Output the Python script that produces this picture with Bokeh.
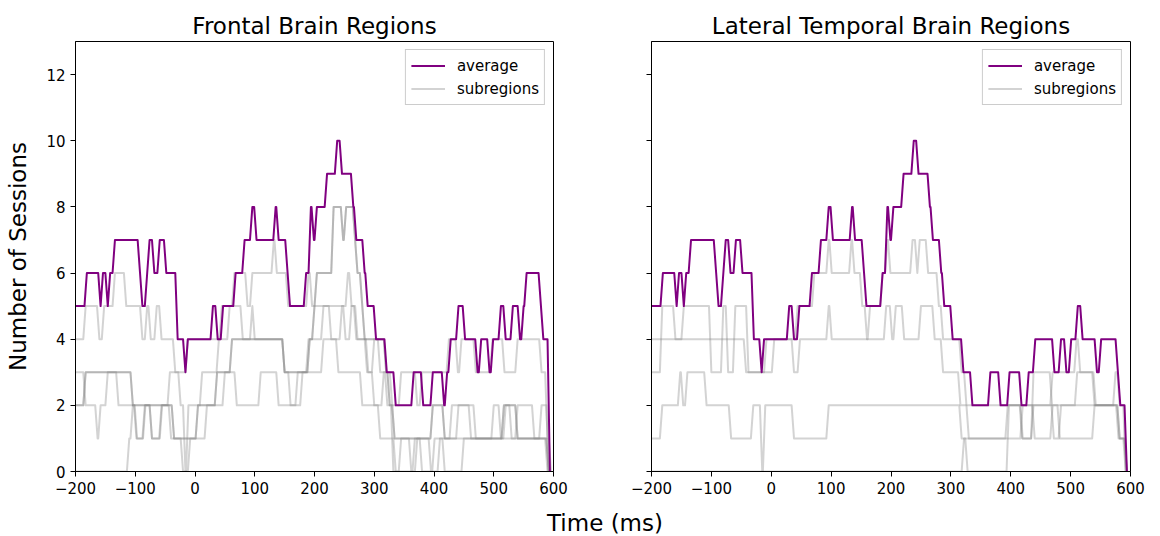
from bokeh.plotting import figure
from bokeh.models import Range1d, FixedTicker, Legend, LegendItem, Div
from bokeh.layouts import row, column
from bokeh.embed import file_html
from bokeh.resources import INLINE

FONT = "DejaVu Sans"

# ---------------- data (segment start time in ms, value held from that time) ----------------
x_ticks = [-200, -100, 0, 100, 200, 300, 400, 500, 600]
y_ticks = [0, 2, 4, 6, 8, 10, 12]

# Frontal: average
frontal_avg_t = [-200, -181, -158, -154, -146, -142, -134, -92, -88, -80, -76, -68, -59, -48, -29, -16, -12, 30, 38, 47,
                 68, 83, 96, 103, 135, 140, 155, 159, 186, 194, 199, 204, 221, 238, 246, 265, 270, 284, 289, 303, 321, 336,
                 366, 382, 398, 417, 422, 428, 441, 452, 473, 479, 493, 499, 512, 520, 532, 544, 550, 555, 579, 583, 594]
frontal_avg_v = [5, 6, 5, 6, 5, 6, 7, 6, 5, 6, 7, 6, 7, 6, 4, 3, 4, 5, 4, 5,
                 6, 7, 8, 7, 8, 7, 6, 5, 6, 8, 7, 8, 9, 10, 9, 8, 7, 6, 5, 4, 3, 2,
                 3, 2, 3, 2, 3, 4, 5, 4, 3, 4, 3, 4, 5, 4, 5, 4, 5, 6, 5, 4, 0]

# Frontal: subregions
frontal_s1_t = [-200, -183, -104, -35, 5, 37, 62, 150, 192, 200, 204, 232, 248, 253, 268, 272, 280, 284, 320, 326, 334,
                398, 418, 441, 470, 517, 540, 592]
frontal_s1_v = [2, 3, 2, 1, 2, 3, 4, 3, 4, 5, 6, 8, 7, 8, 7, 6, 5, 4, 3, 2, 1,
                2, 1, 2, 1, 2, 1, 0]
frontal_s2_t = [-200, -183, -104, -35, 5, 37, 62, 150, 192, 200, 204, 232, 248, 253, 268, 272, 280, 284, 320, 326, 334,
                398, 418, 517, 540, 592]
frontal_s2_v = [2, 3, 2, 1, 2, 3, 4, 3, 4, 5, 6, 8, 7, 8, 7, 6, 5, 4, 3, 2, 1,
                2, 1, 2, 1, 0]
frontal_s3_t = [-200, -183, -160, -152, -134, -115, -88, -80, -74, -64, -56, -33, -12, 45, 66, 88, 96, 132, 137, 156,
                190, 196, 256, 262, 272, 290, 300, 310, 330, 345, 372, 380, 425, 440, 446, 470, 498, 518, 540, 580,
                590, 596]
frontal_s3_v = [4, 5, 4, 5, 6, 5, 4, 5, 4, 5, 4, 3, 4, 5, 6, 5, 6, 7, 6, 5,
                6, 5, 6, 5, 4, 3, 4, 3, 2, 3, 2, 3, 4, 3, 4, 3, 4, 3, 4, 3,
                1, 0]
frontal_s4_t = [-200, -183, -163, -158, -146, -128, -98, -84, -72, -56, -42, -24, -16, -11, 12, 40, 58, 80, 96, 100,
                150, 160, 172, 190, 215, 228, 246, 252, 262, 270, 288, 300, 316, 322, 332, 345, 362, 368, 395, 401,
                430, 462, 500, 512, 540, 568, 580, 592]
frontal_s4_v = [3, 2, 1, 2, 3, 2, 1, 2, 1, 2, 3, 2, 0, 2, 3, 4, 5, 4, 5, 4,
                3, 2, 3, 4, 5, 4, 5, 4, 5, 4, 3, 2, 3, 2, 0, 1, 0, 1, 0, 1,
                2, 1, 2, 1, 2, 1, 2, 0]
frontal_s5_t = [-200, -110, -104, -97, -83, -72, -55, -40, -20, -8, 20, 50, 70, 110, 140, 180, 215, 240, 280, 310,
                336, 372, 380, 410, 418, 450, 520, 530, 590]
frontal_s5_v = [0, 1, 2, 1, 2, 1, 2, 1, 0, 1, 2, 3, 2, 3, 2, 3, 4, 3, 2, 1,
                0, 1, 0, 1, 0, 1, 2, 1, 0]

# Lateral temporal: average
temporal_avg_t = [-200, -181, -158, -154, -146, -142, -134, -92, -88, -80, -76, -68, -59, -48, -29, -16, -12, 30, 38, 47,
                  68, 83, 96, 103, 135, 140, 155, 159, 186, 194, 199, 204, 221, 238, 246, 265, 270, 284, 289, 303, 321, 336,
                  366, 383, 398, 418, 430, 441, 473, 484, 493, 501, 512, 520, 544, 551, 579, 583, 594]
temporal_avg_v = [5, 6, 5, 6, 5, 6, 7, 6, 5, 6, 7, 6, 7, 6, 4, 3, 4, 5, 4, 5,
                  6, 7, 8, 7, 8, 7, 6, 5, 6, 8, 7, 8, 9, 10, 9, 8, 7, 6, 5, 4, 3, 2,
                  3, 2, 3, 2, 3, 4, 3, 4, 3, 4, 5, 4, 3, 4, 3, 2, 0]

# Lateral temporal: subregions
temporal_s1_t = [-200, -182, -160, -146, -100, -80, -72, -60, -38, 5, 44, 72, 96, 101, 134, 139, 152, 160, 165, 186,
                 194, 199, 236, 244, 248, 262, 280, 287, 318, 326, 470, 510, 516, 540, 575, 582, 592]
temporal_s1_v = [3, 5, 4, 5, 3, 5, 3, 5, 3, 4, 5, 6, 7, 6, 7, 6, 5, 4, 5, 6,
                 7, 6, 7, 6, 7, 6, 5, 4, 3, 2, 3, 4, 3, 2, 3, 2, 0]
temporal_s2_t = [-200, -42, -8, 38, 48, 96, 101, 192, 202, 208, 222, 250, 273, 287, 316, 330, 395, 420, 438, 472,
                 484, 582, 594]
temporal_s2_v = [4, 3, 4, 3, 4, 5, 4, 5, 4, 5, 4, 5, 4, 3, 2, 1, 2, 1, 2, 1,
                 2, 1, 0]
temporal_s3_t = [-200, -182, -152, -147, -140, -108, -67, -30, -15, -10, 38, 96, 318, 328, 397, 419, 438, 469, 511, 542,
                 582, 594]
temporal_s3_v = [1, 2, 3, 2, 3, 2, 1, 2, 0, 2, 1, 2, 1, 0, 2, 1, 3, 2, 3, 2,
                 1, 0]
temporal_s4_t = [-200, 322, 420, 440, 470, 482, 540, 580, 592]
temporal_s4_v = [0, 1, 2, 1, 2, 1, 2, 1, 0]


def vertices(ts, vs, end=598, ramp=4):
    """Turn (segment start, value) pairs into line vertices with short ramps between levels."""
    xs, ys = [], []
    for i, (t, v) in enumerate(zip(ts, vs)):
        nxt = ts[i + 1] if i + 1 < len(ts) else end
        xs += [t, max(t, nxt - ramp)]
        ys += [v, v]
    return xs, ys


def make_panel(title, avg, subs, first, width, border_left):
    p = figure(width=width, height=503, x_range=Range1d(-200, 600), y_range=Range1d(0, 13),
               output_backend="svg", toolbar_location=None, title=title,
               min_border_left=border_left, min_border_right=20, min_border_top=41, min_border_bottom=32)
    p.background_fill_color = "white"
    p.border_fill_color = "white"
    p.outline_line_color = "black"
    p.outline_line_alpha = 1
    p.outline_line_width = 1
    p.xgrid.grid_line_color = None
    p.ygrid.grid_line_color = None

    p.title.text_font = FONT
    p.title.text_font_size = "23px"
    p.title.text_font_style = "normal"
    p.title.text_color = "black"
    p.title.align = "center"
    p.title.standoff = 5

    for ax in p.axis:
        ax.axis_line_color = "black"
        ax.major_tick_line_color = "black"
        ax.major_tick_out = 5
        ax.major_tick_in = 0
        ax.minor_tick_line_color = None
        ax.major_label_text_font = FONT
        ax.major_label_text_font_size = "15px"
        ax.major_label_text_color = "black"
        ax.major_label_standoff = 5
    p.xaxis.ticker = FixedTicker(ticks=x_ticks)
    p.yaxis.ticker = FixedTicker(ticks=y_ticks)
    p.xaxis.major_label_overrides = {t: (str(t).replace("-", "\u2212")) for t in x_ticks}
    if first:
        p.yaxis.axis_label = "Number of Sessions"
        p.yaxis.axis_label_text_font = FONT
        p.yaxis.axis_label_text_font_size = "23px"
        p.yaxis.axis_label_text_font_style = "normal"
        p.yaxis.axis_label_text_color = "black"
        p.yaxis.axis_label_standoff = 12
    else:
        p.yaxis.major_label_overrides = {t: "" for t in y_ticks}

    sub_rs = []
    for ts, vs in subs:
        xs, ys = vertices(ts, vs)
        sub_rs.append(p.line(xs, ys, line_color="gray", line_alpha=0.35, line_width=2, line_join="round"))
    xs, ys = vertices(*avg)
    avg_r = p.line(xs, ys, line_color="purple", line_width=2, line_join="round")

    legend = Legend(items=[LegendItem(label="average", renderers=[avg_r]),
                           LegendItem(label="subregions", renderers=[sub_rs[0]])],
                    location="top_right")
    legend.label_text_font = FONT
    legend.label_text_font_size = "15px"
    legend.label_text_color = "black"
    legend.border_line_color = "#cccccc"
    legend.border_line_alpha = 1
    legend.background_fill_alpha = 0.8
    legend.margin = 8
    legend.padding = 5
    legend.spacing = 2
    legend.glyph_width = 34
    legend.glyph_height = 21
    legend.label_height = 21
    legend.label_standoff = 12
    p.add_layout(legend)
    return p


p1 = make_panel("Frontal Brain Regions", (frontal_avg_t, frontal_avg_v),
                [(frontal_s1_t, frontal_s1_v), (frontal_s2_t, frontal_s2_v), (frontal_s3_t, frontal_s3_v),
                 (frontal_s4_t, frontal_s4_v), (frontal_s5_t, frontal_s5_v)],
                True, 573, 75)
p2 = make_panel("Lateral Temporal Brain Regions", (temporal_avg_t, temporal_avg_v),
                [(temporal_s1_t, temporal_s1_v), (temporal_s2_t, temporal_s2_v), (temporal_s3_t, temporal_s3_v),
                 (temporal_s4_t, temporal_s4_v)],
                False, 577, 78)

xlabel = Div(text='<div style="box-sizing:border-box; width:1150px; padding-left:50px; text-align:center; '
                  'font-family:\'DejaVu Sans\'; font-size:23px; line-height:23px; position:relative; top:4px; '
                  'color:black;">Time (ms)</div>',
             width=1150, height=25)

layout = column(row(p1, p2), xlabel)
open("out.html", "w").write(file_html(layout, INLINE))
